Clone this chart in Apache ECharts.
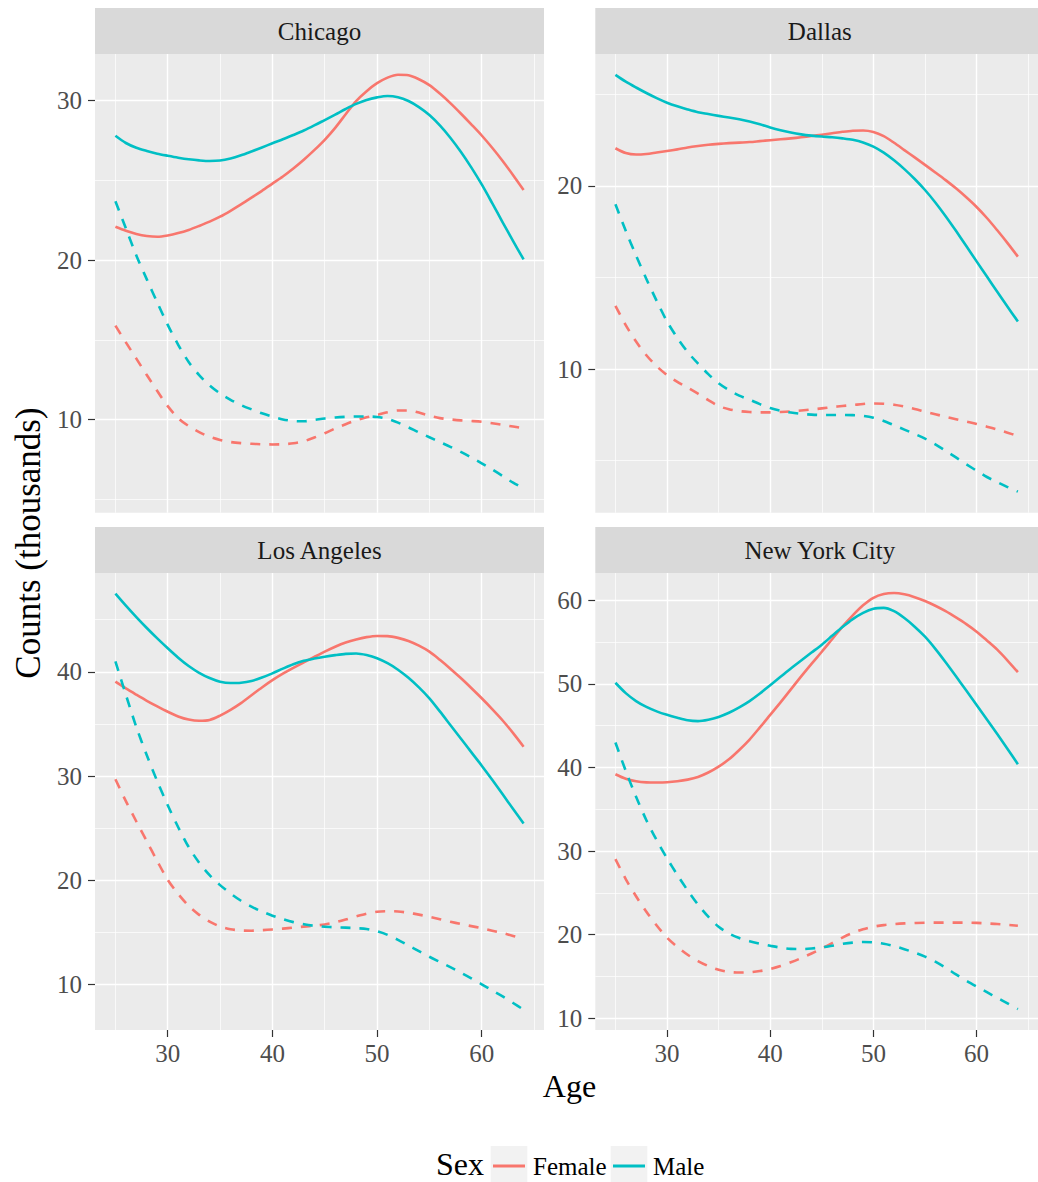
<!DOCTYPE html>
<html><head><meta charset="utf-8">
<script src="https://cdn.jsdelivr.net/npm/echarts@6/dist/echarts.min.js"></script>
<style>html,body{margin:0;padding:0;background:#fff}#c{width:1038px;height:1182px}</style>
</head><body><div id="c"></div>
<script>
// ---------- data ----------
const ages = [25, 26, 27, 28, 29, 30, 31, 32, 33, 34, 35, 36, 37, 38, 39, 40, 41, 42, 43, 44,
              45, 46, 47, 48, 49, 50, 51, 52, 53, 54, 55, 56, 57, 58, 59, 60, 61, 62, 63, 64];

const chicagoFemaleA = [22.1, 21.85, 21.65, 21.52, 21.47, 21.55, 21.7, 21.9, 22.15, 22.42, 22.73, 23.1, 23.5, 23.92, 24.35, 24.8, 25.25, 25.75, 26.3, 26.9,
                        27.55, 28.3, 29.15, 29.98, 30.6, 31.1, 31.45, 31.63, 31.6, 31.35, 30.98, 30.45, 29.85, 29.2, 28.52, 27.82, 27.05, 26.22, 25.33, 24.4];
const chicagoMaleA   = [27.8, 27.35, 27.05, 26.85, 26.68, 26.55, 26.43, 26.33, 26.26, 26.22, 26.25, 26.38, 26.58, 26.82, 27.07, 27.33, 27.58, 27.85, 28.13, 28.45,
                        28.79, 29.13, 29.48, 29.8, 30.05, 30.21, 30.3, 30.22, 29.98, 29.6, 29.1, 28.45, 27.68, 26.8, 25.82, 24.75, 23.58, 22.38, 21.2, 20.05];
const chicagoFemaleB = [15.9, 14.85, 13.83, 12.8, 11.8, 10.85, 10.1, 9.6, 9.22, 8.93, 8.73, 8.6, 8.53, 8.49, 8.46, 8.45, 8.46, 8.52, 8.65, 8.88,
                        9.15, 9.45, 9.72, 9.96, 10.15, 10.3, 10.47, 10.58, 10.58, 10.45, 10.25, 10.1, 10.02, 9.96, 9.92, 9.87, 9.78, 9.68, 9.57, 9.46];
const chicagoMaleB   = [23.7, 22.0, 20.3, 18.8, 17.35, 15.95, 14.7, 13.62, 12.8, 12.15, 11.65, 11.25, 10.92, 10.65, 10.4, 10.2, 10.02, 9.92, 9.9, 9.98,
                        10.08, 10.14, 10.18, 10.2, 10.2, 10.17, 10.05, 9.82, 9.52, 9.2, 8.9, 8.6, 8.3, 7.98, 7.63, 7.27, 6.88, 6.47, 6.05, 5.7];

const dallasFemaleA = [22.06, 21.8, 21.72, 21.75, 21.83, 21.91, 22.0, 22.1, 22.18, 22.25, 22.3, 22.34, 22.37, 22.4, 22.45, 22.5, 22.55, 22.6, 22.66, 22.73,
                       22.8, 22.88, 22.96, 23.02, 23.03, 22.95, 22.72, 22.36, 21.96, 21.56, 21.15, 20.74, 20.32, 19.87, 19.38, 18.85, 18.25, 17.58, 16.88, 16.14];
const dallasMaleA   = [26.07, 25.7, 25.38, 25.08, 24.8, 24.55, 24.35, 24.18, 24.03, 23.93, 23.83, 23.74, 23.64, 23.52, 23.37, 23.2, 23.05, 22.92, 22.82, 22.75,
                       22.7, 22.66, 22.6, 22.52, 22.38, 22.15, 21.82, 21.4, 20.92, 20.38, 19.78, 19.1, 18.35, 17.55, 16.72, 15.88, 15.05, 14.22, 13.4, 12.6];
const dallasFemaleB = [13.45, 12.4, 11.5, 10.75, 10.15, 9.67, 9.3, 8.98, 8.65, 8.3, 7.98, 7.8, 7.7, 7.65, 7.63, 7.63, 7.65, 7.68, 7.73, 7.79,
                       7.85, 7.92, 7.98, 8.03, 8.09, 8.12, 8.1, 8.05, 7.95, 7.82, 7.67, 7.53, 7.39, 7.26, 7.13, 7.0, 6.85, 6.69, 6.52, 6.34];
const dallasMaleB   = [19.0, 17.55, 16.2, 14.92, 13.72, 12.6, 11.7, 10.93, 10.3, 9.72, 9.22, 8.85, 8.55, 8.32, 8.08, 7.87, 7.72, 7.62, 7.55, 7.51,
                       7.49, 7.49, 7.49, 7.48, 7.44, 7.34, 7.16, 6.93, 6.69, 6.45, 6.2, 5.88, 5.53, 5.17, 4.8, 4.44, 4.1, 3.82, 3.55, 3.3];

const laFemaleA = [39.05, 38.4, 37.8, 37.22, 36.68, 36.17, 35.72, 35.42, 35.3, 35.38, 35.8, 36.35, 37.0, 37.75, 38.5, 39.2, 39.82, 40.38, 40.9, 41.42,
                   41.93, 42.4, 42.8, 43.1, 43.32, 43.43, 43.42, 43.25, 42.95, 42.5, 41.93, 41.15, 40.3, 39.4, 38.45, 37.46, 36.42, 35.33, 34.12, 32.82];
const laMaleA   = [47.5, 46.35, 45.25, 44.2, 43.2, 42.25, 41.35, 40.55, 39.9, 39.4, 39.05, 38.92, 38.95, 39.12, 39.45, 39.85, 40.3, 40.72, 41.05, 41.27,
                   41.45, 41.6, 41.72, 41.75, 41.6, 41.3, 40.82, 40.2, 39.42, 38.5, 37.45, 36.2, 34.9, 33.6, 32.3, 31.0, 29.65, 28.25, 26.85, 25.45];
const laFemaleB = [29.7, 27.6, 25.65, 23.75, 21.85, 20.05, 18.7, 17.55, 16.7, 16.05, 15.58, 15.32, 15.2, 15.18, 15.23, 15.3, 15.38, 15.48, 15.57, 15.66,
                   15.78, 15.98, 16.25, 16.55, 16.82, 17.0, 17.05, 17.02, 16.9, 16.72, 16.52, 16.28, 16.04, 15.82, 15.62, 15.42, 15.18, 14.95, 14.68, 14.4];
const laMaleB   = [41.0, 37.8, 34.7, 32.0, 29.5, 27.2, 25.1, 23.2, 21.7, 20.5, 19.55, 18.75, 18.05, 17.48, 17.02, 16.62, 16.28, 16.0, 15.8, 15.65,
                   15.56, 15.5, 15.47, 15.42, 15.35, 15.12, 14.78, 14.3, 13.76, 13.22, 12.68, 12.18, 11.68, 11.16, 10.62, 10.04, 9.45, 8.88, 8.25, 7.6];

const nycFemaleA = [39.19, 38.65, 38.35, 38.22, 38.2, 38.23, 38.35, 38.55, 38.87, 39.4, 40.1, 40.98, 42.1, 43.35, 44.8, 46.3, 47.8, 49.35, 50.9, 52.4,
                    53.85, 55.35, 56.85, 58.2, 59.4, 60.3, 60.75, 60.87, 60.72, 60.38, 59.92, 59.35, 58.7, 57.95, 57.15, 56.25, 55.2, 54.1, 52.8, 51.4];
const nycMaleA   = [50.14, 48.9, 47.95, 47.25, 46.72, 46.3, 45.95, 45.65, 45.55, 45.72, 46.05, 46.55, 47.2, 47.95, 48.85, 49.85, 50.85, 51.85, 52.8, 53.75,
                    54.7, 55.75, 56.8, 57.75, 58.5, 59.0, 59.1, 58.7, 57.88, 56.85, 55.65, 54.2, 52.6, 50.92, 49.2, 47.48, 45.75, 44.0, 42.22, 40.4];
const nycFemaleB = [29.05, 26.65, 24.6, 22.75, 21.1, 19.65, 18.55, 17.6, 16.85, 16.25, 15.8, 15.55, 15.47, 15.5, 15.65, 15.9, 16.25, 16.7, 17.2, 17.75,
                    18.35, 19.0, 19.65, 20.22, 20.65, 20.96, 21.15, 21.27, 21.35, 21.4, 21.44, 21.45, 21.45, 21.45, 21.44, 21.42, 21.35, 21.28, 21.18, 21.08];
const nycMaleB   = [43.0, 39.6, 36.5, 33.7, 31.3, 29.15, 27.15, 25.3, 23.6, 22.15, 20.95, 20.15, 19.6, 19.22, 18.93, 18.68, 18.45, 18.3, 18.28, 18.35,
                    18.48, 18.68, 18.9, 19.05, 19.12, 19.08, 18.92, 18.64, 18.27, 17.85, 17.38, 16.78, 16.05, 15.25, 14.5, 13.8, 13.12, 12.45, 11.78, 11.1];

const cities = ['Chicago', 'Dallas', 'Los Angeles', 'New York City'];
const sexes = ['Female', 'Male'];

const xTicks = [30, 40, 50, 60];
const xMinor = [25, 35, 45, 55, 65];
const ageRange = [23.05, 65.95];

const chicagoTicks = [10, 20, 30];          const chicagoMinor = [5, 15, 25];
const dallasTicks  = [10, 20];              const dallasMinor  = [5, 15, 25];
const laTicks      = [10, 20, 30, 40];      const laMinor      = [15, 25, 35, 45];
const nycTicks     = [10, 20, 30, 40, 50, 60]; const nycMinor  = [15, 25, 35, 45, 55];

const chicagoRange = [4.17, 32.93];
const dallasRange  = [2.15, 27.21];
const laRange      = [5.66, 49.47];
const nycRange     = [8.6, 63.27];

// ---------- layout / styles ----------
const FONT = '"Liberation Serif", "Times New Roman", serif';
const COLORS = { Female: '#F8766D', Male: '#00BFC4' };
const boxes = [
  { left: 95,    top: 54,  width: 449, height: 458.7 },
  { left: 595.3, top: 54,  width: 449, height: 458.7 },
  { left: 95,    top: 573, width: 449, height: 457 },
  { left: 595.3, top: 573, width: 449, height: 457 }
];

const panels = [
  { city: cities[0], f: [chicagoFemaleA, chicagoFemaleB], m: [chicagoMaleA, chicagoMaleB], ticks: chicagoTicks, minor: chicagoMinor, range: chicagoRange },
  { city: cities[1], f: [dallasFemaleA, dallasFemaleB],   m: [dallasMaleA, dallasMaleB],   ticks: dallasTicks,  minor: dallasMinor,  range: dallasRange },
  { city: cities[2], f: [laFemaleA, laFemaleB],           m: [laMaleA, laMaleB],           ticks: laTicks,      minor: laMinor,      range: laRange },
  { city: cities[3], f: [nycFemaleA, nycFemaleB],         m: [nycMaleA, nycMaleB],         ticks: nycTicks,     minor: nycMinor,     range: nycRange }
];

const zip = arr => ages.map((a, i) => [a, arr[i]]);

const grid = [], xAxis = [], yAxis = [], series = [], graphic = [];

panels.forEach((p, i) => {
  const b = boxes[i];
  const bottomRow = i >= 2;
  grid.push({ left: b.left, top: b.top, width: b.width, height: b.height, show: true, backgroundColor: '#EBEBEB', borderWidth: 0, containLabel: false });
  xAxis.push({
    type: 'value', gridIndex: i, min: ageRange[0], max: ageRange[1],
    axisLine: { show: false }, splitLine: { show: false },
    axisTick: { show: bottomRow, customValues: xTicks, length: 7, lineStyle: { color: '#333333', width: 1.2 } },
    axisLabel: { show: bottomRow, customValues: xTicks, margin: 11, fontSize: 25, fontFamily: FONT, color: '#4D4D4D' }
  });
  yAxis.push({
    type: 'value', gridIndex: i, min: p.range[0], max: p.range[1],
    axisLine: { show: false }, splitLine: { show: false },
    axisTick: { show: true, customValues: p.ticks, length: 7, lineStyle: { color: '#333333', width: 1.2 } },
    axisLabel: { show: true, customValues: p.ticks, margin: 13, fontSize: 25, fontFamily: FONT, color: '#4D4D4D' }
  });

  // background grid lines drawn through the axes' own scales
  const gl = [];
  xTicks.forEach(v => gl.push({ xAxis: v, lineStyle: { width: 1.4, color: '#FFFFFF', type: 'solid' } }));
  xMinor.forEach(v => gl.push({ xAxis: v, lineStyle: { width: 0.7, color: '#FFFFFF', type: 'solid' } }));
  p.ticks.forEach(v => gl.push({ yAxis: v, lineStyle: { width: 1.4, color: '#FFFFFF', type: 'solid' } }));
  p.minor.forEach(v => gl.push({ yAxis: v, lineStyle: { width: 0.7, color: '#FFFFFF', type: 'solid' } }));
  series.push({
    type: 'line', name: 'grid' + i, xAxisIndex: i, yAxisIndex: i, data: [], silent: true,
    markLine: { silent: true, symbol: ['none', 'none'], z: 1, animation: false, label: { show: false },
      emphasis: { disabled: true }, lineStyle: { color: '#FFFFFF', type: 'solid' }, data: gl }
  });

  [['Female', p.f], ['Male', p.m]].forEach(([sex, arrs]) => {
    arrs.forEach((arr, k) => {
      series.push({
        type: 'line', name: sex, xAxisIndex: i, yAxisIndex: i, data: zip(arr),
        smooth: 0.3, symbol: 'none', showSymbol: false, silent: true, z: 3,
        lineStyle: { color: COLORS[sex], width: 2.6, type: k === 0 ? 'solid' : [10, 9], cap: 'butt', join: 'round' },
        itemStyle: { color: COLORS[sex] },
        emphasis: { disabled: true }
      });
    });
  });

  // facet strip
  graphic.push({ type: 'rect', silent: true, shape: { x: b.left, y: b.top - 46, width: b.width, height: 46 }, style: { fill: '#D9D9D9' } });
  graphic.push({ type: 'text', silent: true, x: b.left + b.width / 2, y: b.top - 23,
    style: { text: p.city, fontSize: 25, fontFamily: FONT, fill: '#1A1A1A', align: 'center', verticalAlign: 'middle' } });
});

// axis titles
graphic.push({ type: 'text', silent: true, x: 569.5, y: 1086,
  style: { text: 'Age', fontSize: 32, fontFamily: FONT, fill: '#000000', align: 'center', verticalAlign: 'middle' } });
graphic.push({ type: 'text', silent: true, x: 28, y: 543, rotation: Math.PI / 2,
  style: { text: 'Counts (thousands)', fontSize: 35, fontFamily: FONT, fill: '#000000', align: 'center', verticalAlign: 'middle' } });

// legend title and key backgrounds
graphic.push({ type: 'text', silent: true, x: 436, y: 1164,
  style: { text: 'Sex', fontSize: 32, fontFamily: FONT, fill: '#000000', align: 'left', verticalAlign: 'middle' } });
graphic.push({ type: 'rect', silent: true, shape: { x: 490.7, y: 1146, width: 36.6, height: 36 }, style: { fill: '#F2F2F2' } });
graphic.push({ type: 'rect', silent: true, shape: { x: 610.7, y: 1146, width: 36.6, height: 36 }, style: { fill: '#F2F2F2' } });

const legendCommon = {
  orient: 'horizontal', top: 1153.5, icon: 'rect', itemWidth: 32, itemHeight: 3, padding: 0, selectedMode: false,
  textStyle: { fontSize: 25, fontFamily: FONT, color: '#000000', padding: [0, 0, 0, 3] }
};

const option = {
  animation: false,
  backgroundColor: '#FFFFFF',
  grid, xAxis, yAxis, series, graphic,
  legend: [
    Object.assign({ data: [sexes[0]], left: 493 }, legendCommon),
    Object.assign({ data: [sexes[1]], left: 613 }, legendCommon)
  ]
};

const chart = echarts.init(document.getElementById('c'), null, { renderer: 'svg' });
chart.setOption(option);
</script>
</body></html>
